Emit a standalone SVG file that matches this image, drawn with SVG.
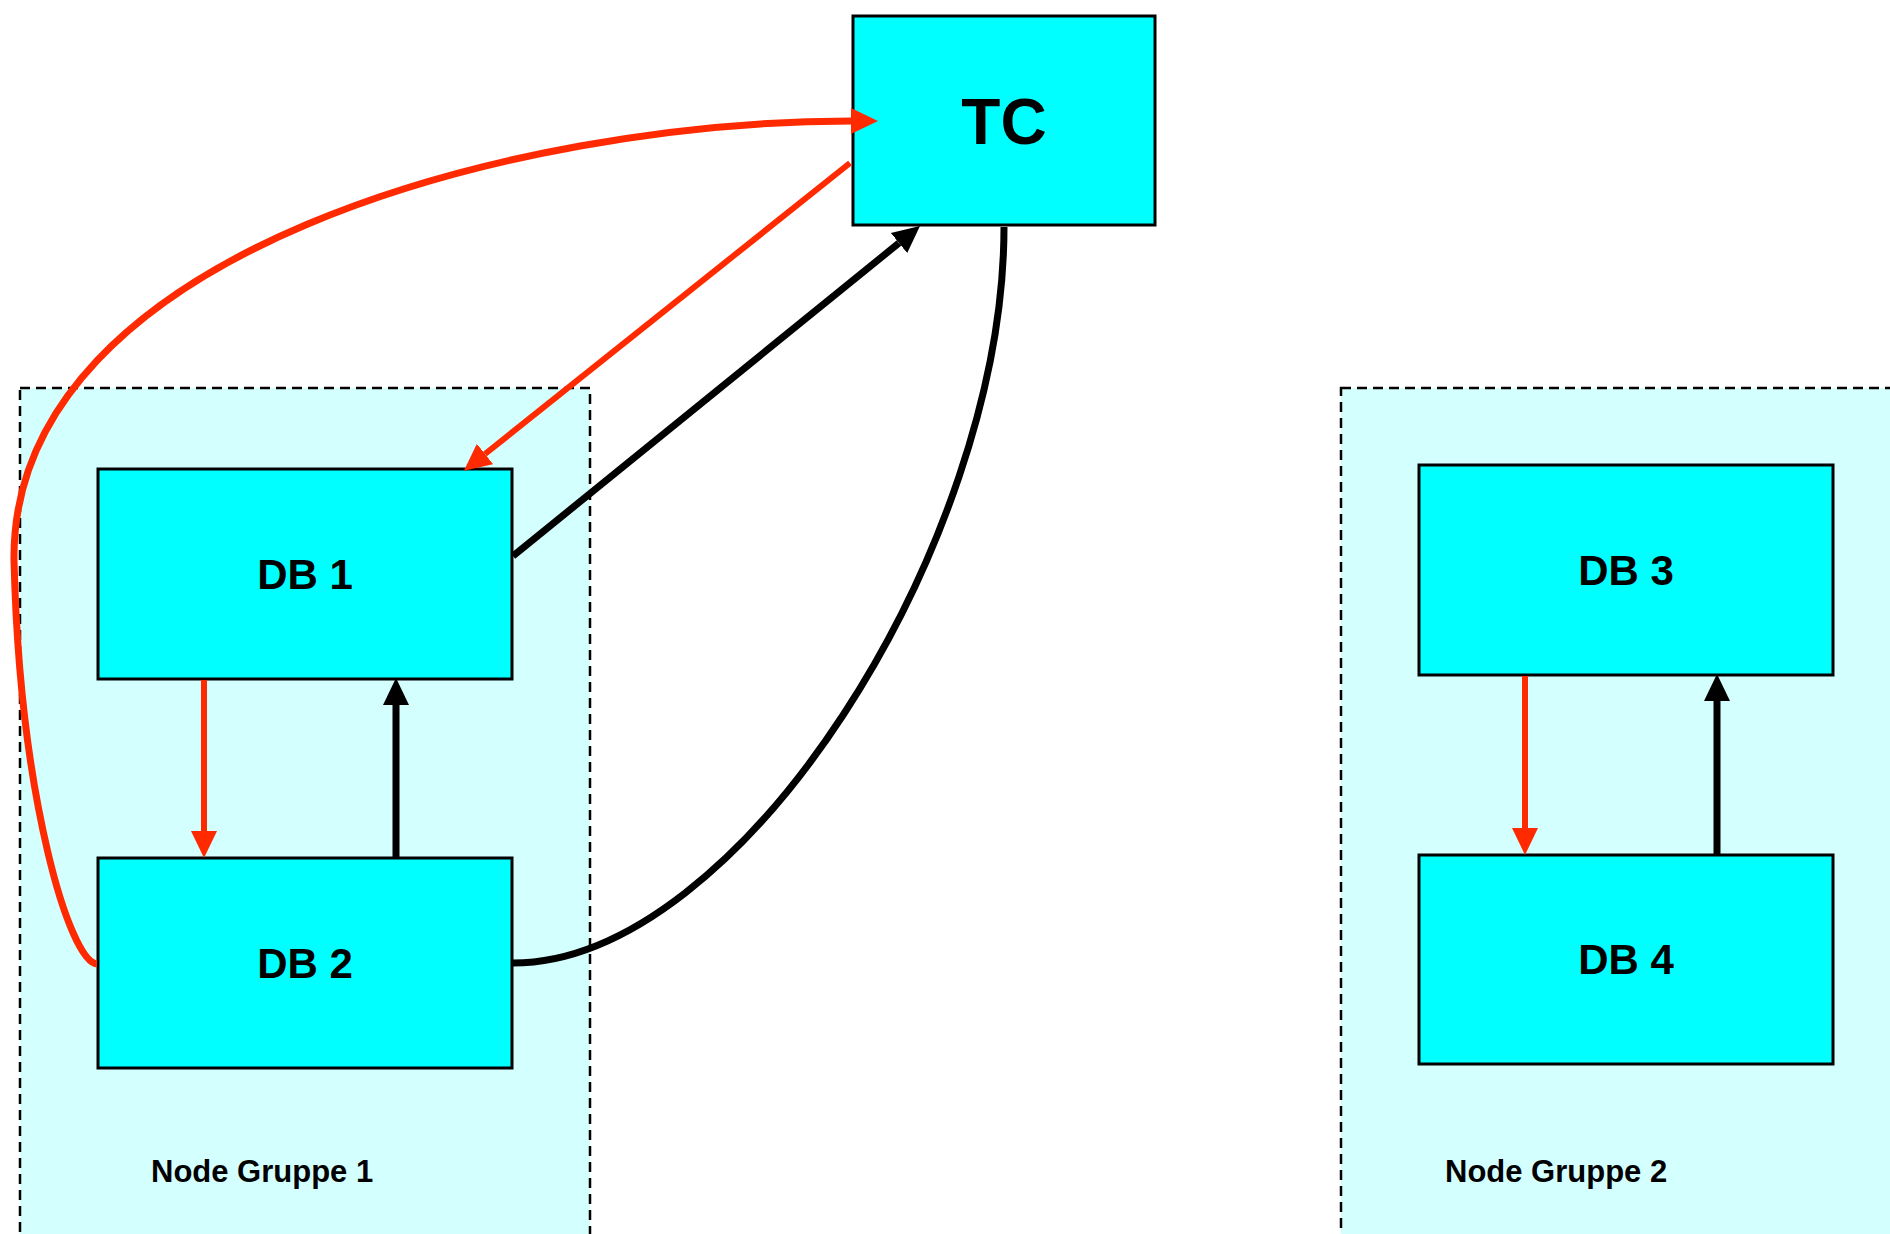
<svg xmlns="http://www.w3.org/2000/svg" width="1890" height="1234" viewBox="0 0 1890 1234">
  <style>
    .group { fill: #d4ffff; stroke: #000; stroke-width: 2.5; stroke-dasharray: 10 6; }
    .node { fill: #00ffff; stroke: #000; stroke-width: 3; }
    .label { font-family: "Liberation Sans", Arial, sans-serif; font-weight: bold; fill: #000; }
    .big { font-size: 64px; text-anchor: middle; }
    .db { font-size: 42px; text-anchor: middle; }
    .grp { font-size: 31px; }
    .red { fill: none; stroke: #ff2a00; stroke-width: 6; }
    .black { fill: none; stroke: #000; stroke-width: 7; }
  </style>
  <defs>
    <marker id="headRed" markerUnits="userSpaceOnUse" markerWidth="28" markerHeight="28" refX="0" refY="13" orient="auto" viewBox="0 0 28 26">
      <path d="M0,0 L27,13 L0,26 Z" fill="#ff2a00"/>
    </marker>
    <marker id="headBlack" markerUnits="userSpaceOnUse" markerWidth="28" markerHeight="28" refX="0" refY="13" orient="auto" viewBox="0 0 28 26">
      <path d="M0,0 L27,13 L0,26 Z" fill="#000"/>
    </marker>
  </defs>

  <rect width="1890" height="1234" fill="#fff"/>

  <!-- node groups (dashed containers) -->
  <g id="group-1">
    <rect class="group" x="20" y="388" width="570" height="900"/>
    <text class="label grp" x="151" y="1182">Node Gruppe 1</text>
  </g>
  <g id="group-2">
    <rect class="group" x="1341" y="388" width="600" height="900"/>
    <text class="label grp" x="1445" y="1182">Node Gruppe 2</text>
  </g>

  <!-- nodes -->
  <g id="node-tc">
    <rect class="node" x="853" y="16" width="302" height="209"/>
    <text class="label big" x="1004" y="144">TC</text>
  </g>
  <g id="node-db1">
    <rect class="node" x="98" y="469" width="414" height="210"/>
    <text class="label db" x="305" y="589">DB 1</text>
  </g>
  <g id="node-db2">
    <rect class="node" x="98" y="858" width="414" height="210"/>
    <text class="label db" x="305" y="978">DB 2</text>
  </g>
  <g id="node-db3">
    <rect class="node" x="1419" y="465" width="414" height="210"/>
    <text class="label db" x="1626" y="585">DB 3</text>
  </g>
  <g id="node-db4">
    <rect class="node" x="1419" y="855" width="414" height="209"/>
    <text class="label db" x="1626" y="974">DB 4</text>
  </g>

  <!-- connectors, drawn over the boxes -->
  <g id="connectors">
    <!-- DB 2 back up around the left side into TC -->
    <path class="red" style="stroke-width:7" d="M97,964 C70,962 20,800 14,560 C11,250 520,121 851,121" marker-end="url(#headRed)"/>
    <!-- TC to DB 1 -->
    <path class="red" d="M850,163 L485,454" marker-end="url(#headRed)"/>
    <!-- DB 1 to TC -->
    <path class="black" d="M513,556 L899,243" marker-end="url(#headBlack)"/>
    <!-- DB 2 to TC (curved, no head) -->
    <path class="black" d="M513,963 C740,963 1004,545 1004,227"/>
    <!-- DB 1 / DB 2 -->
    <path class="red" d="M204,680 L204,831" marker-end="url(#headRed)"/>
    <path class="black" d="M396,857 L396,705" marker-end="url(#headBlack)"/>
    <!-- DB 3 / DB 4 -->
    <path class="red" d="M1525,676 L1525,828" marker-end="url(#headRed)"/>
    <path class="black" d="M1717,854 L1717,701" marker-end="url(#headBlack)"/>
  </g>
</svg>
